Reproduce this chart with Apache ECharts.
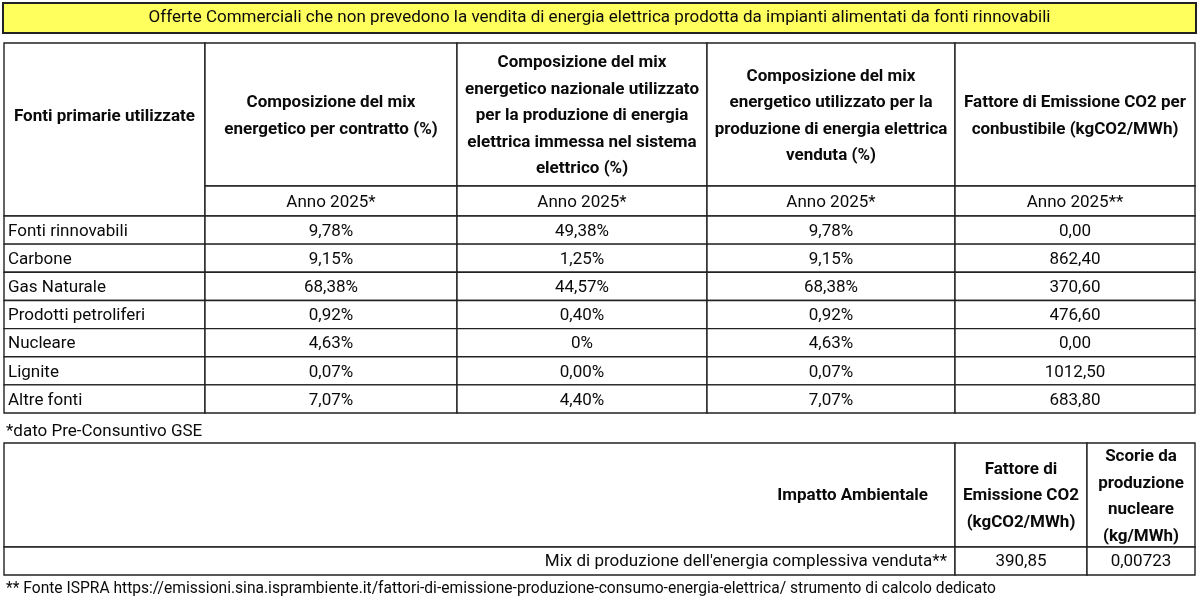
<!doctype html>
<html>
<head>
<meta charset="utf-8">
<title>Offerte Commerciali - mix energetico</title>
<script src="https://cdn.jsdelivr.net/npm/echarts@6/dist/echarts.min.js"></script>
<style>
  html, body { margin: 0; padding: 0; background: #fff; }
  #tabella { width: 1200px; height: 601px; }
</style>
</head>
<body>
<div id="tabella"></div>
<script>
// dati della tabella
var titolo = 'Offerte Commerciali che non prevedono la vendita di energia elettrica prodotta da impianti alimentati da fonti rinnovabili';
var intestazioni = [
    'Fonti primarie utilizzate',
    'Composizione del mix\nenergetico per contratto (%)',
    'Composizione del mix\nenergetico nazionale utilizzato\nper la produzione di energia\nelettrica immessa nel sistema\nelettrico (%)',
    'Composizione del mix\nenergetico utilizzato per la\nproduzione di energia elettrica\nvenduta (%)',
    'Fattore di Emissione CO2 per\nconbustibile (kgCO2/MWh)'
];
var anni = ['Anno 2025*', 'Anno 2025*', 'Anno 2025*', 'Anno 2025**'];
var fonti = ['Fonti rinnovabili', 'Carbone', 'Gas Naturale', 'Prodotti petroliferi', 'Nucleare', 'Lignite', 'Altre fonti'];
var mixContratto = ['9,78%', '9,15%', '68,38%', '0,92%', '4,63%', '0,07%', '7,07%'];
var mixNazionale = ['49,38%', '1,25%', '44,57%', '0,40%', '0%', '0,00%', '4,40%'];
var mixVenduta = ['9,78%', '9,15%', '68,38%', '0,92%', '4,63%', '0,07%', '7,07%'];
var fattoreEmissione = ['0,00', '862,40', '370,60', '476,60', '0,00', '1012,50', '683,80'];
var nota1 = '*dato Pre-Consuntivo GSE';
var impattoIntestazioni = ['Impatto Ambientale', 'Fattore di\nEmissione CO2\n(kgCO2/MWh)', 'Scorie da\nproduzione\nnucleare\n(kg/MWh)'];
var impattoRiga = ["Mix di produzione dell'energia complessiva venduta**", '390,85', '0,00723'];
var nota2 = '** Fonte ISPRA https://emissioni.sina.isprambiente.it/fattori-di-emissione-produzione-consumo-energia-elettrica/ strumento di calcolo dedicato';

// layout (pixel della pagina, mappati sugli assi)
var colonne = [4, 205, 457, 707, 955, 1195];
var righe = [43, 186, 216];
for (var r = 1; r <= fonti.length; r++) righe.push(216 + r * 28.15);
var colonne2 = [4, 955, 1087, 1195];
var righe2 = [443, 547, 575];

var celle = [];
function cella(x0, y0, x1, y1, testo, opz) {
    opz = opz || {};
    celle.push({ x0: x0, y0: y0, x1: x1, y1: y1, testo: testo,
        align: opz.align || 'center', pad: opz.pad || 0, bold: !!opz.bold,
        fill: opz.fill, bordo: opz.bordo === undefined ? true : opz.bordo,
        lw: opz.lw || 1.4, dy: opz.dy || 0, size: opz.size || 17 });
}

// titolo
cella(3, 3, 1196, 33, titolo, { fill: '#ffff5e', lw: 2 });

// intestazioni tabella principale
cella(colonne[0], righe[0], colonne[1], righe[2], intestazioni[0], { bold: true, dy: -13 });
for (var c = 1; c < 5; c++) {
    cella(colonne[c], righe[0], colonne[c + 1], righe[1], intestazioni[c], { bold: true, dy: 1.5 });
    cella(colonne[c], righe[1], colonne[c + 1], righe[2], anni[c - 1], { dy: 1.5 });
}
var colonneDati = [mixContratto, mixNazionale, mixVenduta, fattoreEmissione];
fonti.forEach(function (f, i) {
    cella(colonne[0], righe[i + 2], colonne[1], righe[i + 3], f, { align: 'left', pad: 4, dy: 1.5 });
    colonneDati.forEach(function (arr, k) {
        cella(colonne[k + 1], righe[i + 2], colonne[k + 2], righe[i + 3], arr[i], { dy: 1.5 });
    });
});

cella(6, 420, 400, 442, nota1, { align: 'left', bordo: false, dy: 1 });

// tabella impatto ambientale
cella(colonne2[0], righe2[0], colonne2[1], righe2[1], impattoIntestazioni[0], { align: 'right', pad: 27, bold: true, dy: 1 });
cella(colonne2[1], righe2[0], colonne2[2], righe2[1], impattoIntestazioni[1], { bold: true, dy: 1 });
cella(colonne2[2], righe2[0], colonne2[3], righe2[1], impattoIntestazioni[2], { bold: true, dy: 1.5 });
cella(colonne2[0], righe2[1], colonne2[1], righe2[2], impattoRiga[0], { align: 'right', pad: 8, dy: 0.5 });
cella(colonne2[1], righe2[1], colonne2[2], righe2[2], impattoRiga[1], { dy: 0.5 });
cella(colonne2[2], righe2[1], colonne2[3], righe2[2], impattoRiga[2], { dy: 0.5 });

cella(6, 579, 1190, 600, nota2, { align: 'left', bordo: false, size: 15.6 });

var chart = echarts.init(document.getElementById('tabella'));
var option = {
    backgroundColor: '#ffffff',
    animation: false,
    grid: { left: 0, right: 0, top: 0, bottom: 0 },
    xAxis: { type: 'value', min: 0, max: 1200, show: false },
    yAxis: { type: 'value', min: 0, max: 601, inverse: true, show: false },
    series: [{
        type: 'custom',
        data: celle.map(function (c) { return [c.x0, c.y0, c.x1, c.y1]; }),
        encode: { x: [0, 2], y: [1, 3] },
        renderItem: function (params, api) {
            var c = celle[params.dataIndex];
            var p0 = api.coord([api.value(0), api.value(1)]);
            var p1 = api.coord([api.value(2), api.value(3)]);
            var tx = c.align === 'left' ? p0[0] + c.pad : (c.align === 'right' ? p1[0] - c.pad : (p0[0] + p1[0]) / 2);
            var figli = [];
            if (c.bordo) {
                figli.push({
                    type: 'rect',
                    shape: { x: p0[0], y: p0[1], width: p1[0] - p0[0], height: p1[1] - p0[1] },
                    style: { fill: c.fill || '#ffffff', stroke: '#222222', lineWidth: c.lw }
                });
            }
            figli.push({
                type: 'text',
                z2: 10,
                style: {
                    text: c.testo,
                    x: tx,
                    y: (p0[1] + p1[1]) / 2 + c.dy,
                    align: c.align,
                    verticalAlign: 'middle',
                    fill: '#0a0a0a',
                    fontFamily: 'Roboto',
                    fontSize: c.size,
                    fontWeight: c.bold ? 'bold' : 'normal',
                    lineHeight: 26.5
                }
            });
            return { type: 'group', children: figli };
        }
    }]
};
chart.setOption(option);
</script>
</body>
</html>
